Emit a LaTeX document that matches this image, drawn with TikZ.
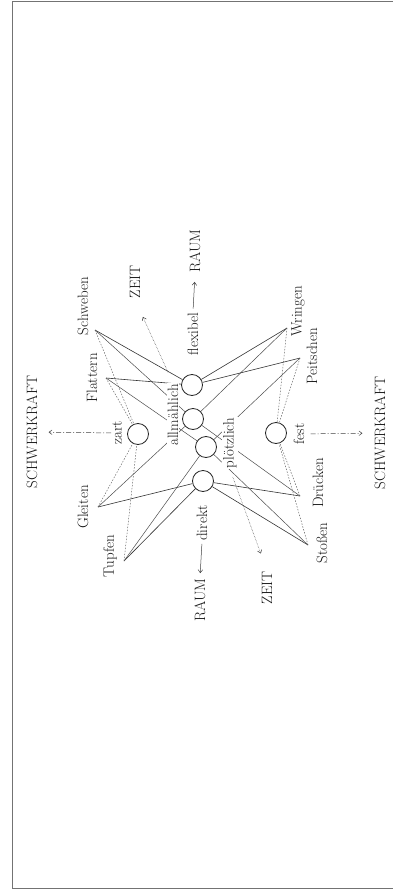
\documentclass[tikz,border=0pt]{standalone}
\usepackage{fontspec}
\usetikzlibrary{arrows.meta}

\begin{document}
\begin{tikzpicture}[x=1pt, y=1pt,
  kreis/.style={circle, draw=black!85, line width=0.8pt, fill=white, minimum size=21pt, inner sep=0pt},
  wort/.style={rotate=90, fill=white, inner sep=1pt, text=black!90,
    font=\fontsize{15}{17}\selectfont},
  achse/.style={wort, font=\fontsize{15}{17}\selectfont},
  raumlinie/.style={draw=black!80, line width=0.6pt},
  zeitlinie/.style={draw=black!70, line width=0.5pt},
  kraftlinie/.style={draw=black!60, line width=0.5pt, dash pattern=on 1.5pt off 1.5pt},
  pfeil/.style={draw=black!75, line width=0.5pt, -{Straight Barb[length=3pt,width=4.5pt]}}]

  \useasboundingbox (0,0) rectangle (393,-893);

  % frame, open on the right
  \draw[black!55, line width=0.7pt] (393,-1) -- (12.5,-1) -- (12.5,-888) -- (393,-888);

  % circles: Raum, Zeit, Schwerkraft
  \node[kreis] (flexibel) at (192,-385) {};
  \node[kreis] (allmaehlich) at (193,-419) {};
  \node[kreis] (ploetzlich) at (206,-447) {};
  \node[kreis] (direkt) at (203,-481) {};
  \node[kreis] (zart) at (138,-434) {};
  \node[kreis] (fest) at (276,-433) {};

  % meeting points of the eight actions
  \coordinate (schweben) at (95,-330);
  \coordinate (flattern) at (106,-378);
  \coordinate (gleiten) at (98,-507);
  \coordinate (tupfen) at (124,-561);
  \coordinate (wringen) at (287,-328);
  \coordinate (peitschen) at (300,-358);
  \coordinate (druecken) at (300,-496);
  \coordinate (stossen) at (308,-545);

  % each action to its Raum, Zeit and Schwerkraft circle
  \foreach \a/\r/\z/\k in {schweben/flexibel/allmaehlich/zart, flattern/flexibel/ploetzlich/zart,
      gleiten/direkt/allmaehlich/zart, tupfen/direkt/ploetzlich/zart,
      wringen/flexibel/allmaehlich/fest, peitschen/flexibel/ploetzlich/fest,
      druecken/direkt/allmaehlich/fest, stossen/direkt/ploetzlich/fest} {
    \draw[raumlinie] (\a) -- (\r);
    \draw[zeitlinie] (\a) -- (\z);
    \draw[kraftlinie] (\a) -- (\k);
  }

  % action names
  \node[wort] (schweben-l) at (83,-306) {Schweben};
  \node[wort] (flattern-l) at (92,-378) {Flattern};
  \node[wort] (gleiten-l) at (83,-507) {Gleiten};
  \node[wort] (tupfen-l) at (110,-556) {Tupfen};
  \node[wort] (wringen-l) at (298,-311) {Wringen};
  \node[wort] (peitschen-l) at (312,-356) {Peitschen};
  \node[wort] (druecken-l) at (318,-483) {Drücken};
  \node[wort] (stossen-l) at (322,-543) {Stoßen};

  % circle names
  \node[wort] (zart-l) at (117,-433) {zart};
  \node[wort] (fest-l) at (299,-434) {fest};
  \node[wort] (allmaehlich-l) at (173,-415) {allmählich};
  \node[wort] (ploetzlich-l) at (230,-443) {plötzlich};
  \node[wort] (flexibel-l) at (193,-334) {flexibel};
  \node[wort] (direkt-l) at (202,-523) {direkt};

  % the three factors
  \node[achse] (schwer-l) at (32,-432) {SCHWERKRAFT};
  \node[achse] (schwer-r) at (380,-433) {SCHWERKRAFT};
  \node[achse] (raum-o) at (195,-251) {RAUM};
  \node[achse] (raum-u) at (200,-600) {RAUM};
  \node[achse] (zeit-o) at (135,-282) {ZEIT};
  \node[achse] (zeit-u) at (267,-588) {ZEIT};

  % arrows out to the factors
  \draw[pfeil, shorten <=3pt, shorten >=8pt] (flexibel-l.east) -- (raum-o.west);
  \draw[pfeil, shorten <=2pt, shorten >=4pt] (direkt-l.west) -- (raum-u.east);
  \draw[pfeil, densely dotted, shorten <=12pt, shorten >=19pt] (allmaehlich-l.east) -- (zeit-o.west);
  \draw[pfeil, densely dotted, shorten <=8pt, shorten >=18pt] (ploetzlich-l.west) -- (zeit-u.east);
  \draw[pfeil, dash pattern=on 5pt off 2pt on 1pt off 2pt, shorten >=10pt] (zart-l) -- (schwer-l);
  \draw[pfeil, dash pattern=on 5pt off 2pt on 1pt off 2pt, shorten <=5pt, shorten >=11pt] (fest-l) -- (schwer-r);
\end{tikzpicture}
\end{document}
